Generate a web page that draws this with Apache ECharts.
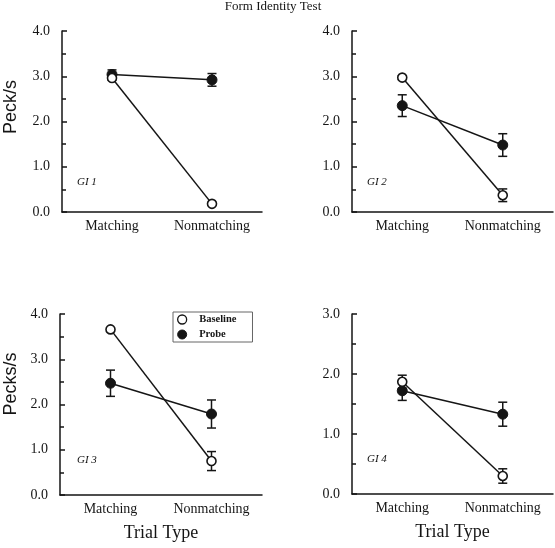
<!DOCTYPE html>
<html>
<head>
<meta charset="utf-8">
<script src="https://cdn.jsdelivr.net/npm/echarts@6/dist/echarts.min.js"></script>
<style>
html,body{margin:0;padding:0;background:#fff;}
#chart{width:555px;height:548px;}
</style>
</head>
<body>
<div id="chart"></div>
<script>
var categories = ['Matching', 'Nonmatching'];
var panelLabels = ['GI 1', 'GI 2', 'GI 3', 'GI 4'];
var yMax = [4, 4, 4, 3];

var baseline1 = [2.96, 0.18]; var baselineErr1 = [0.05, 0.03];
var probe1    = [3.04, 2.92]; var probeErr1    = [0.10, 0.14];
var baseline2 = [2.97, 0.37]; var baselineErr2 = [0.04, 0.14];
var probe2    = [2.35, 1.48]; var probeErr2    = [0.24, 0.25];
var baseline3 = [3.66, 0.75]; var baselineErr3 = [0.03, 0.21];
var probe3    = [2.47, 1.79]; var probeErr3    = [0.29, 0.31];
var baseline4 = [1.87, 0.30]; var baselineErr4 = [0.11, 0.12];
var probe4    = [1.72, 1.33]; var probeErr4    = [0.16, 0.20];

var baselines = [baseline1, baseline2, baseline3, baseline4];
var baselineErrs = [baselineErr1, baselineErr2, baselineErr3, baselineErr4];
var probes = [probe1, probe2, probe3, probe4];
var probeErrs = [probeErr1, probeErr2, probeErr3, probeErr4];

var SERIF = '"Liberation Serif", "Times New Roman", serif';
var SANS = '"Liberation Sans", Arial, sans-serif';
var INK = '#151515';

var grids = [
  {left: 62, top: 31, width: 200, height: 181},
  {left: 352, top: 31, width: 201, height: 181},
  {left: 60, top: 314, width: 202, height: 181},
  {left: 352, top: 314, width: 201, height: 180}
];

function errData(vals, errs) {
  return vals.map(function (v, i) { return [i, v - errs[i], v + errs[i]]; });
}

function renderErr(params, api) {
  var x = api.value(0), lo = api.value(1), hi = api.value(2);
  var p1 = api.coord([x, hi]), p2 = api.coord([x, lo]);
  var w = 4.5;
  var st = {stroke: INK, lineWidth: 1.5};
  return {type: 'group', children: [
    {type: 'line', shape: {x1: p1[0], y1: p1[1], x2: p2[0], y2: p2[1]}, style: st},
    {type: 'line', shape: {x1: p1[0] - w, y1: p1[1], x2: p1[0] + w, y2: p1[1]}, style: st},
    {type: 'line', shape: {x1: p2[0] - w, y1: p2[1], x2: p2[0] + w, y2: p2[1]}, style: st}
  ]};
}

var xAxes = [], yAxes = [], series = [];
for (var i = 0; i < 4; i++) {
  xAxes.push({
    type: 'category', gridIndex: i, data: categories, boundaryGap: true,
    axisLine: {lineStyle: {color: INK, width: 1.5}},
    axisTick: {inside: true, length: 5, alignWithLabel: true, lineStyle: {color: INK, width: 1.5}},
    axisLabel: {color: INK, fontFamily: SERIF, fontSize: 14, margin: 7},
    splitLine: {show: false},
    name: i >= 2 ? 'Trial Type' : '',
    nameLocation: 'middle', nameGap: 29,
    nameTextStyle: {color: INK, fontFamily: SERIF, fontSize: 18}
  });
}
for (var i = 0; i < 4; i++) {
  yAxes.push({
    type: 'value', gridIndex: i, min: 0, max: yMax[i], interval: 1, position: 'left',
    axisLine: {show: true, onZero: false, lineStyle: {color: INK, width: 1.5}},
    axisTick: {show: true, inside: true, length: 5, lineStyle: {color: INK, width: 1.5}},
    axisLabel: {color: INK, fontFamily: SERIF, fontSize: 14, margin: 12,
      formatter: function (v) { return v.toFixed(1); }},
    splitLine: {show: false}
  });
}
// minor-tick overlay axes (ticks every 0.5, inside)
for (var i = 0; i < 4; i++) {
  yAxes.push({
    type: 'value', gridIndex: i, min: 0, max: yMax[i], interval: 0.5, position: 'left', offset: 0,
    axisLine: {show: false},
    axisTick: {show: true, inside: true, length: 4, lineStyle: {color: INK, width: 1.5}},
    axisLabel: {show: false},
    splitLine: {show: false}
  });
}
for (var i = 0; i < 4; i++) {
  series.push({
    type: 'custom', xAxisIndex: i, yAxisIndex: i, z: 1, silent: true,
    renderItem: renderErr, encode: {x: 0, y: [1, 2]},
    data: errData(baselines[i], baselineErrs[i])
  });
  series.push({
    type: 'custom', xAxisIndex: i, yAxisIndex: i, z: 1, silent: true,
    renderItem: renderErr, encode: {x: 0, y: [1, 2]},
    data: errData(probes[i], probeErrs[i])
  });
  series.push({
    name: 'Probe', type: 'line', xAxisIndex: i, yAxisIndex: i, z: 3,
    data: probes[i], symbol: 'circle', symbolSize: 10, showAllSymbol: true,
    lineStyle: {color: INK, width: 1.5},
    itemStyle: {color: INK, borderColor: INK, borderWidth: 1},
    emphasis: {disabled: true}
  });
  series.push({
    name: 'Baseline', type: 'line', xAxisIndex: i, yAxisIndex: i, z: 4,
    data: baselines[i], symbol: 'circle', symbolSize: 9, showAllSymbol: true,
    lineStyle: {color: INK, width: 1.5},
    itemStyle: {color: '#ffffff', borderColor: INK, borderWidth: 1.6},
    emphasis: {disabled: true}
  });
}

var giPos = [[77, 182], [367, 182], [77, 460], [367, 459]];
var graphics = [
  {type: 'text', x: 273, y: 7, style: {text: 'Form Identity Test', fontFamily: SERIF, fontSize: 13, fill: INK, align: 'center', verticalAlign: 'middle'}},
  {type: 'text', x: 11, y: 107, rotation: Math.PI / 2, style: {text: 'Peck/s', fontFamily: SANS, fontSize: 18, fill: INK, align: 'center', verticalAlign: 'middle'}},
  {type: 'text', x: 11, y: 384, rotation: Math.PI / 2, style: {text: 'Pecks/s', fontFamily: SANS, fontSize: 18, fill: INK, align: 'center', verticalAlign: 'middle'}}
];
for (var k = 0; k < 4; k++) {
  graphics.push({type: 'text', x: giPos[k][0], y: giPos[k][1],
    style: {text: panelLabels[k], fontFamily: SERIF, fontStyle: 'italic', fontSize: 11, fill: INK, align: 'left', verticalAlign: 'middle'}});
}

var chart = echarts.init(document.getElementById('chart'), null, {renderer: 'canvas'});
chart.setOption({
  animation: false,
  backgroundColor: '#ffffff',
  grid: grids,
  xAxis: xAxes,
  yAxis: yAxes,
  series: series,
  legend: {
    left: 173, top: 312, orient: 'vertical',
    data: [
      {name: 'Baseline', icon: 'circle', itemStyle: {color: '#ffffff', borderColor: INK, borderWidth: 1.3}},
      {name: 'Probe', icon: 'circle', itemStyle: {color: INK, borderColor: INK, borderWidth: 1}}
    ],
    itemWidth: 12, itemHeight: 9, itemGap: 4,
    padding: [2, 16, 2, 4],
    borderColor: '#666', borderWidth: 1,
    selectedMode: false,
    textStyle: {fontFamily: SERIF, fontSize: 10.5, fontWeight: 'bold', color: INK, padding: [0, 0, 0, 6]}
  },
  graphic: graphics
});
</script>
</body>
</html>
